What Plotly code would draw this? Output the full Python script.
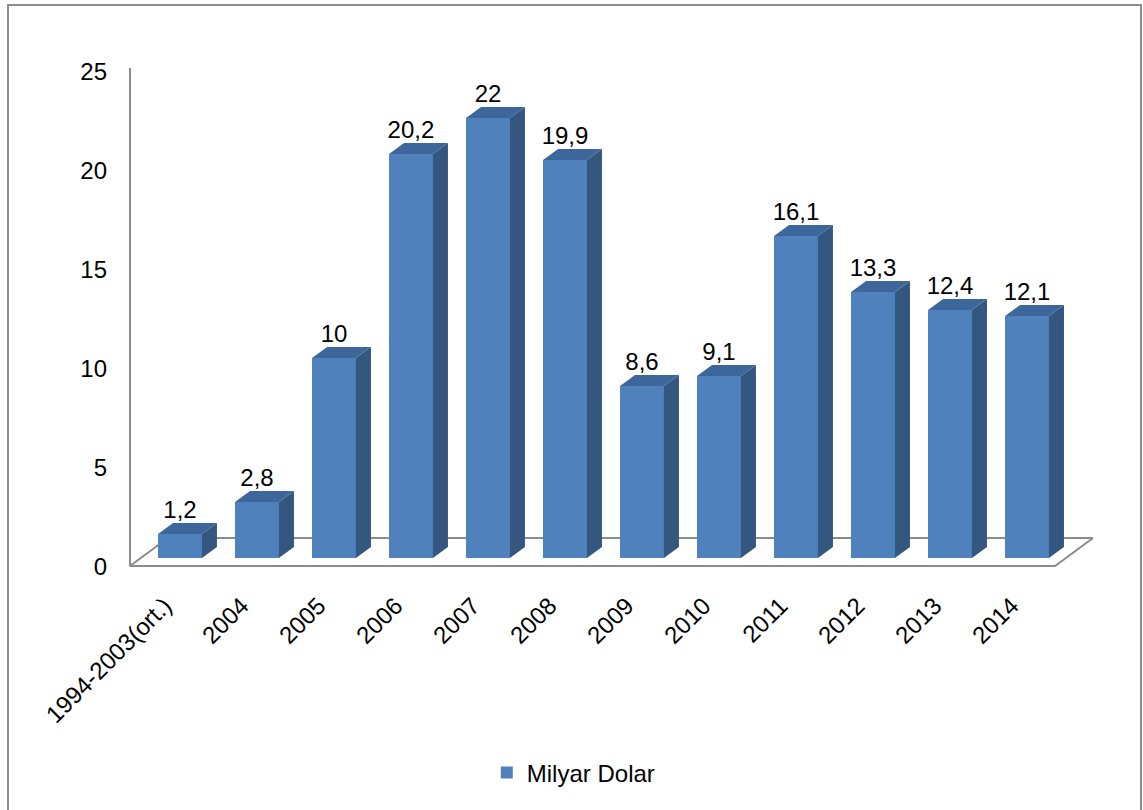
import plotly.graph_objects as go

# ---- data ----
categories = ["1994-2003(ort.)", "2004", "2005", "2006", "2007", "2008",
              "2009", "2010", "2011", "2012", "2013", "2014"]
values = [1.2, 2.8, 10, 20.2, 22, 19.9, 8.6, 9.1, 16.1, 13.3, 12.4, 12.1]
value_labels = ["1,2", "2,8", "10", "20,2", "22", "19,9", "8,6", "9,1",
                "16,1", "13,3", "12,4", "12,1"]
y_ticks = [0, 5, 10, 15, 20, 25]
series_name = "Milyar Dolar"

# ---- style ----
FRONT = "#4F81BD"
SIDE = "#34577F"
TOP = "#3D679A"
GRID = "#8C8C8C"
FONT = "Liberation Sans"
FS = 24

W = 1143
H = 810
ML, MR, MT, MB = 130, 50, 60, 240

BAR_W = 0.57
DX = 0.195   # depth offset in category units
DY = 0.55    # depth offset in value units
LABEL_SHIFT = -0.2  # horizontal offset of rotated category labels
LABEL_OFFSET = 1.1  # value-label offset above bar top

n = len(categories)
xs = list(range(n))

fig = go.Figure()

# front faces
fig.add_trace(go.Bar(
    x=xs, y=values, width=BAR_W, marker=dict(color=FRONT, line=dict(width=0)),
    name=series_name, xaxis="x", yaxis="y2", showlegend=True,
))

# side + top faces
for i, v in zip(xs, values):
    xl = i - BAR_W / 2
    xr = i + BAR_W / 2
    fig.add_trace(go.Scatter(
        x=[xr, xr, xr + DX, xr + DX, xr], y=[0, v, v + DY, DY, 0],
        fill="toself", fillcolor=SIDE, mode="lines", line=dict(width=0, color=SIDE),
        showlegend=False, hoverinfo="skip", xaxis="x", yaxis="y2"))
    fig.add_trace(go.Scatter(
        x=[xl, xr, xr + DX, xl + DX, xl], y=[v, v, v + DY, v + DY, v],
        fill="toself", fillcolor=TOP, mode="lines", line=dict(width=0, color=TOP),
        showlegend=False, hoverinfo="skip", xaxis="x", yaxis="y2"))

# value labels
fig.add_trace(go.Scatter(
    x=xs, y=[v + LABEL_OFFSET for v in values], text=value_labels, mode="text",
    textposition="middle center", textfont=dict(family=FONT, size=FS, color="black"),
    showlegend=False, hoverinfo="skip", xaxis="x", yaxis="y2"))

# axis ranges (pixel-matched)
plot_h = H - MT - MB
x_left = -0.649
x_right = 11.857
y2_range = [-(H - MB - 558) / 20.0, (558 - MT) / 20.0]
px_per = 19.78
y0_px = 566.5
y_range = [-(H - MB - y0_px) / px_per, (y0_px - MT) / px_per]

# floor outline (behind bars)
FLOOR_FRONT = -0.4
FLOOR_BACK = 1.0
FLOOR_DX = 0.493
fx_fl = x_left
fx_fr = (n - 1) + 0.364
floor_path = (f"M {fx_fl},{FLOOR_FRONT} L {fx_fr},{FLOOR_FRONT} "
              f"L {fx_fr + FLOOR_DX},{FLOOR_BACK} L {fx_fl + FLOOR_DX},{FLOOR_BACK} Z")

plot_w = W - ML - MR
shapes = [
    dict(type="path", path=floor_path, xref="x", yref="y2",
         line=dict(color=GRID, width=2), layer="below"),
    dict(type="line", xref="paper", yref="y", x0=0, x1=0, y0=0, y1=25.2,
         line=dict(color=GRID, width=2), layer="below"),
    dict(type="rect", xref="paper", yref="paper",
         x0=(8 - ML) / plot_w, x1=(1141 - ML) / plot_w,
         y0=(H - MB - 812) / plot_h, y1=(H - MB - 5) / plot_h,
         line=dict(color=GRID, width=2), layer="below"),
]

fig.update_layout(
    width=W, height=H,
    margin=dict(l=ML, r=MR, t=MT, b=MB),
    paper_bgcolor="white", plot_bgcolor="white",
    font=dict(family=FONT, size=FS, color="black"),
    shapes=shapes,
    bargap=0,
    xaxis=dict(range=[x_left, x_right], tickmode="array",
               tickvals=[i + LABEL_SHIFT for i in xs],
               ticktext=categories, tickangle=-45, showgrid=False, zeroline=False,
               showline=False, ticks="", ticklabelstandoff=16,
               tickfont=dict(family=FONT, size=FS, color="black"), anchor="y"),
    yaxis=dict(range=y_range, tickvals=y_ticks, showgrid=False, zeroline=False,
               showline=False, ticks="", ticklabelstandoff=22,
               tickfont=dict(family=FONT, size=FS, color="black")),
    yaxis2=dict(range=y2_range, overlaying="y", visible=False, showgrid=False,
                zeroline=False),
    legend=dict(orientation="h", xref="container", yref="container",
                x=0.502, y=1 - 773 / H, xanchor="center", yanchor="middle",
                font=dict(family=FONT, size=FS, color="black"),
                bgcolor="rgba(0,0,0,0)"),
    showlegend=True,
)

fig.write_html("out.html")
